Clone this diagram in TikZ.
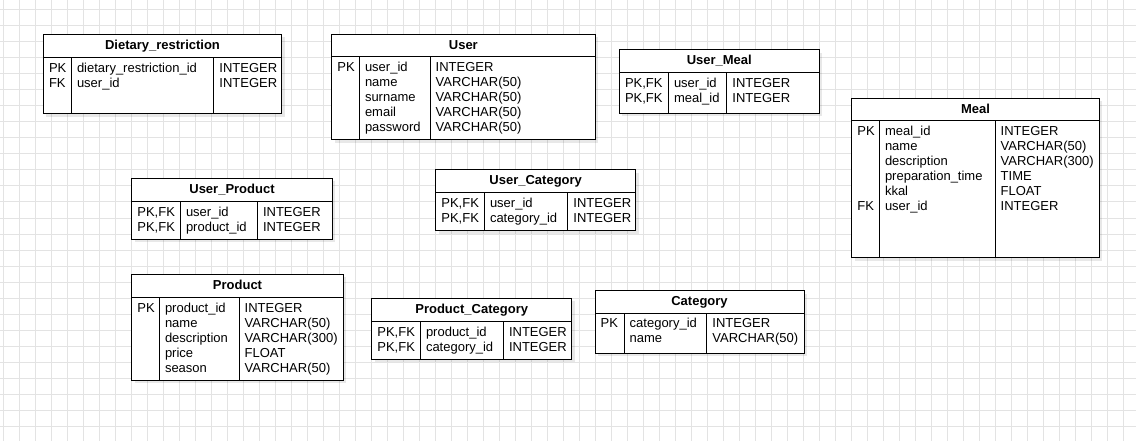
\documentclass[tikz,border=0pt]{standalone}
\usepackage{fontspec}
\setmainfont{Liberation Sans}
\begin{document}
\begin{tikzpicture}[x=1pt,y=-1pt,
  gridline/.style={draw=black!11,line width=1pt},
  tabline/.style={draw=black,line width=1pt},
  shadowc/.style={fill=black,opacity=0.09},
  celltext/.style={font=\fontsize{13}{15}\selectfont,inner sep=0pt,anchor=base west,text=black},
  titletext/.style={font=\fontsize{13}{15}\selectfont\bfseries,inner sep=0pt,anchor=base,text=black}]
\useasboundingbox (0,0) rectangle (1136,441);
\fill[white] (0,0) rectangle (1136,441);
% grid
\foreach \gx in {0,...,70} {\draw[gridline] (3.3+16*\gx,0) -- (3.3+16*\gx,441);}
\foreach \gy in {0,...,27} {\draw[gridline] (0,10+16*\gy) -- (1136,10+16*\gy);}
% table frame: #1 name, #2 x1, #3 y1, #4 x2, #5 y2, #6 header bottom, #7 divider 1, #8 divider 2
\newcommand\erframe[8]{%
  \fill[shadowc] (#2+3,#3+3) rectangle (#4+3,#5+3);
  \draw[tabline,fill=white] (#2,#3) rectangle (#4,#5);
  \draw[tabline] (#2,#6) -- (#4,#6);
  \draw[tabline] (#7,#6) -- (#7,#5);
  \draw[tabline] (#8,#6) -- (#8,#5);
  \coordinate (#1-top) at ({(#2+#4)/2},#3+14.8);
}
% rows: #1 name, #2 x1, #3 d1, #4 d2, #5 first baseline, #6 list key/field/type
\newcommand\errows[6]{%
  \foreach \kk/\ff/\tt [count=\ii from 0] in {#6} {
    \node[celltext] (#1-k\ii) at (#2+5.5,#5+15*\ii) {\kk};
    \node[celltext] (#1-f\ii) at (#3+5.5,#5+15*\ii) {\ff};
    \node[celltext] (#1-t\ii) at (#4+5.5,#5+15*\ii) {\tt};
  }
}
% Dietary_restriction
\erframe{diet}{43.3}{34.3}{281.7}{114}{57.3}{71.3}{213.7}
\node[titletext] (diet-title) at (diet-top) {Dietary\_restriction};
\errows{diet}{43.3}{71.3}{213.7}{72.5}{PK/dietary\_restriction\_id/INTEGER, FK/user\_id/INTEGER}
% User
\erframe{user}{331.7}{34.3}{595}{140}{56.7}{359.3}{430}
\node[titletext] (user-title) at (user-top) {User};
\errows{user}{331.7}{359.3}{430}{71.9}{PK/user\_id/INTEGER, {}/name/VARCHAR(50), {}/surname/VARCHAR(50), {}/email/VARCHAR(50), {}/password/VARCHAR(50)}
% User_Meal
\erframe{um}{619.3}{50}{819.3}{113.3}{72.7}{668.3}{726.7}
\node[titletext] (um-title) at (um-top) {User\_Meal};
\errows{um}{619.3}{668.3}{726.7}{87.9}{{PK,FK}/user\_id/INTEGER, {PK,FK}/meal\_id/INTEGER}
% Meal
\erframe{meal}{851.7}{98.3}{1099.3}{257.7}{120.7}{879.3}{995}
\node[titletext] (meal-title) at (meal-top) {Meal};
\errows{meal}{851.7}{879.3}{995}{135.9}{PK/meal\_id/INTEGER, {}/name/VARCHAR(50), {}/description/VARCHAR(300), {}/preparation\_time/TIME, {}/kkal/FLOAT, FK/user\_id/INTEGER}
% User_Product
\erframe{up}{131.7}{178.3}{332.3}{239}{201.7}{180.3}{257.3}
\node[titletext] (up-title) at (up-top) {User\_Product};
\errows{up}{131.7}{180.3}{257.3}{216.9}{{PK,FK}/user\_id/INTEGER, {PK,FK}/product\_id/INTEGER}
% User_Category
\erframe{uc}{435.7}{170}{635.7}{230.7}{192.7}{484.3}{567.7}
\node[titletext] (uc-title) at (uc-top) {User\_Category};
\errows{uc}{435.7}{484.3}{567.7}{207.9}{{PK,FK}/user\_id/INTEGER, {PK,FK}/category\_id/INTEGER}
% Product
\erframe{prod}{131.7}{274.3}{343.3}{380}{297.3}{159.3}{239}
\node[titletext] (prod-title) at (prod-top) {Product};
\errows{prod}{131.7}{159.3}{239}{312.3}{PK/product\_id/INTEGER, {}/name/VARCHAR(50), {}/description/VARCHAR(300), {}/price/FLOAT, {}/season/VARCHAR(50)}
% Product_Category
\erframe{pc}{371.7}{298.3}{571.7}{359}{321.7}{420.3}{503.3}
\node[titletext] (pc-title) at (pc-top) {Product\_Category};
\errows{pc}{371.7}{420.3}{503.3}{336.9}{{PK,FK}/product\_id/INTEGER, {PK,FK}/category\_id/INTEGER}
% Category
\erframe{cat}{595}{290.7}{804}{353.3}{313.3}{624}{706.7}
\node[titletext] (cat-title) at (cat-top) {Category};
\errows{cat}{595}{624}{706.7}{327.9}{PK/category\_id/INTEGER, {}/name/VARCHAR(50)}
\end{tikzpicture}
\end{document}
